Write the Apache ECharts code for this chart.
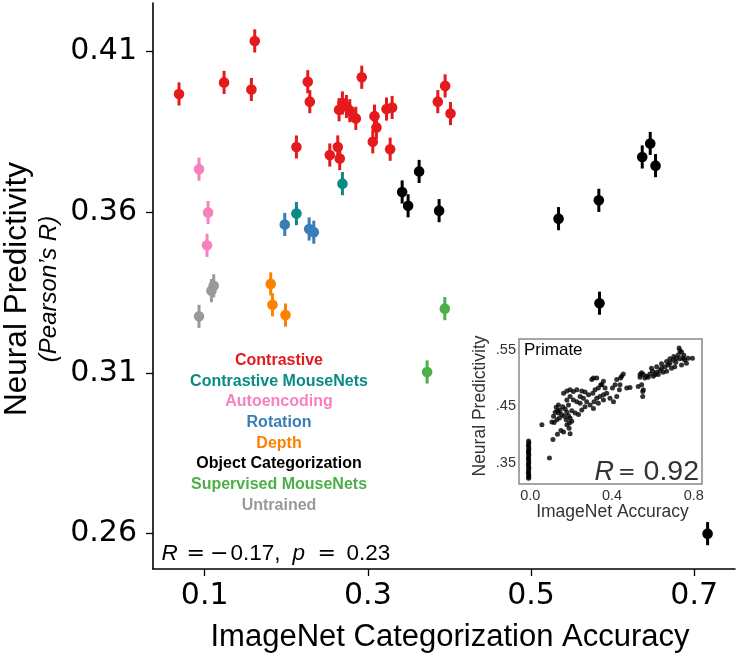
<!DOCTYPE html>
<html><head><meta charset="utf-8">
<script src="https://cdn.jsdelivr.net/npm/echarts@6/dist/echarts.min.js"></script>
<style>html,body{margin:0;padding:0;background:#fff}#c{width:738px;height:655px}</style>
</head><body><div id="c"></div>
<script>
// ---- main panel data: [ImageNet accuracy, neural predictivity] ----
const xTicks = [0.1, 0.3, 0.5, 0.7];
const yTicks = [0.26, 0.31, 0.36, 0.41];
const errHalf = 0.0036;

const contrastive = [
  [0.0685,0.3968],[0.1237,0.4004],[0.1572,0.3982],[0.1613,0.4133],[0.2124,0.3803],
  [0.2263,0.4006],[0.2288,0.3944],[0.2533,0.3778],[0.2631,0.3803],[0.2655,0.3767],
  [0.2647,0.3919],[0.2688,0.3940],[0.2737,0.3929],[0.2778,0.3916],[0.2852,0.3892],
  [0.2925,0.4020],[0.3081,0.3899],[0.3105,0.3864],[0.3060,0.3819],[0.3228,0.3921],
  [0.3297,0.3926],[0.3273,0.3796],[0.3857,0.3944],[0.3947,0.3993],[0.4013,0.3907]
];
const contrastiveMouseNets = [[0.2124,0.3596],[0.2688,0.3689]];
const autoencoding = [[0.0930,0.3734],[0.1041,0.3599],[0.1028,0.3497]];
const rotation = [[0.1981,0.3562],[0.2280,0.3548],[0.2337,0.3538]];
const depth = [[0.1809,0.3377],[0.1830,0.3312],[0.1990,0.3280]];
const objectCategorization = [
  [0.3420,0.3663],[0.3493,0.3620],[0.3628,0.3727],[0.3873,0.3605],[0.5337,0.3580],
  [0.5831,0.3637],[0.6363,0.3772],[0.6461,0.3814],[0.6526,0.3745],[0.5839,0.3317],
  [0.7164,0.2600]
];
const supervisedMouseNets = [[0.3943,0.3300],[0.3726,0.3103]];
const untrained = [[0.0930,0.3276],[0.1082,0.3356],[0.1110,0.3371]];

const groupNames = ['Contrastive','Contrastive MouseNets','Autoencoding','Rotation','Depth',
  'Object Categorization','Supervised MouseNets','Untrained'];
const groupData = [contrastive, contrastiveMouseNets, autoencoding, rotation, depth,
  objectCategorization, supervisedMouseNets, untrained];
const groupColors = ['#e41a1c','#0a8a84','#f781bf','#377eb8','#ff7f00','#000000','#4daf4a','#999999'];

// ---- inset (primate) data ----
const inTicksX = [0.0, 0.4, 0.8];
const inTicksY = [0.35, 0.45, 0.55];
const primate = [
  [-0.008,0.388],[-0.007,0.385],[-0.009,0.381],[-0.008,0.379],[-0.007,0.375],[-0.008,0.372],
  [-0.009,0.369],[-0.008,0.366],[-0.007,0.364],[-0.008,0.360],[-0.009,0.357],[-0.008,0.355],
  [-0.007,0.351],[-0.008,0.348],[-0.009,0.346],[-0.008,0.342],[-0.007,0.340],[-0.008,0.336],
  [-0.009,0.333],[-0.008,0.330],[-0.007,0.327],[-0.008,0.324],[-0.008,0.322],
  [0.057,0.417],[0.094,0.358],
  [0.111,0.391],[0.133,0.400],[0.150,0.407],[0.163,0.404],[0.195,0.401],[0.190,0.411],[0.179,0.417],
  [0.106,0.422],[0.114,0.432],[0.122,0.439],[0.133,0.442],[0.127,0.448],[0.138,0.452],[0.117,0.421],
  [0.138,0.438],[0.146,0.443],[0.159,0.449],[0.171,0.445],[0.179,0.439],[0.187,0.433],[0.195,0.429],
  [0.203,0.423],[0.192,0.420],[0.176,0.426],[0.166,0.432],[0.154,0.435],[0.143,0.429],[0.130,0.426],
  [0.163,0.473],[0.179,0.477],[0.195,0.479],[0.211,0.476],[0.228,0.479],[0.252,0.477],[0.268,0.475],
  [0.285,0.470],[0.306,0.473],[0.317,0.479],[0.333,0.482],[0.350,0.488],[0.325,0.464],[0.341,0.467],
  [0.358,0.470],[0.374,0.473],[0.390,0.464],[0.407,0.458],[0.423,0.467],[0.436,0.479],[0.439,0.488],
  [0.442,0.500],[0.447,0.503],[0.455,0.507],[0.423,0.497],[0.415,0.488],[0.402,0.482],[0.472,0.482],
  [0.488,0.483],[0.358,0.494],[0.366,0.482],[0.301,0.497],[0.309,0.500],[0.325,0.500],[0.345,0.488],
  [0.211,0.461],[0.228,0.458],[0.244,0.467],[0.260,0.464],[0.276,0.458],[0.293,0.452],[0.309,0.446],
  [0.268,0.449],[0.252,0.443],[0.236,0.435],[0.220,0.438],[0.203,0.442],[0.187,0.452],[0.179,0.461],
  [0.195,0.467],[0.312,0.458],[0.333,0.455],[0.358,0.461],[0.244,0.455],
  [0.528,0.485],[0.545,0.509],[0.550,0.476],[0.550,0.467],[0.537,0.506],[0.553,0.506],[0.569,0.503],
  [0.585,0.507],[0.598,0.512],[0.610,0.506],[0.618,0.510],[0.634,0.513],[0.642,0.517],[0.659,0.520],
  [0.675,0.523],[0.683,0.526],[0.699,0.532],[0.715,0.535],[0.724,0.541],[0.732,0.548],[0.728,0.553],
  [0.740,0.546],[0.748,0.535],[0.756,0.532],[0.772,0.535],[0.793,0.535],[0.764,0.526],[0.740,0.523],
  [0.707,0.520],[0.691,0.517],[0.667,0.512],[0.650,0.510],[0.626,0.506],[0.602,0.503],[0.577,0.501],
  [0.561,0.500],[0.593,0.517],[0.618,0.520],[0.642,0.525],[0.667,0.529],[0.683,0.534],[0.702,0.538],
  [0.712,0.528],[0.732,0.534],[0.751,0.540],[0.553,0.479],[0.545,0.488],[0.537,0.501]
];

const chart = echarts.init(document.getElementById('c'), null, {renderer: 'canvas'});

function errSeries(name, data, color) {
  return {
    type: 'custom', name: name, xAxisIndex: 0, yAxisIndex: 0, z: 3,
    data: data.map(d => [d[0], d[1], errHalf]),
    encode: {x: 0, y: 1},
    renderItem: function (params, api) {
      const x = api.value(0), y = api.value(1), e = api.value(2);
      const p0 = api.coord([x, y - e]), p1 = api.coord([x, y + e]), c = api.coord([x, y]);
      return {type: 'group', children: [
        {type: 'line', shape: {x1: p0[0], y1: p0[1], x2: p1[0], y2: p1[1]}, style: {stroke: color, lineWidth: 3}},
        {type: 'circle', shape: {cx: c[0], cy: c[1], r: 5.3}, style: {fill: color}}
      ]};
    }
  };
}

const series = groupData.map((d, i) => errSeries(groupNames[i], d, groupColors[i]));
series.push({
  type: 'scatter', name: 'Primate', xAxisIndex: 1, yAxisIndex: 1, z: 5,
  data: primate, symbolSize: 5, itemStyle: {color: '#000'}, silent: true
});

const MAIN_FONT = 'DejaVu Sans';
const SANS = 'Liberation Sans, Arial, Helvetica, sans-serif';

function txt(x, y, text, font, fill, align, extra) {
  return Object.assign({type: 'text', x: x, y: y, z: 10,
    style: {text: text, fill: fill, font: font, textAlign: align, textVerticalAlign: 'middle'}}, extra || {});
}

const graphics = [];
groupNames.forEach((n, i) => {
  graphics.push(txt(279, 360.5 + i * 20.7, n, 'bold 16px ' + SANS, groupColors[i], 'center'));
});
graphics.push(txt(450, 637.5, 'ImageNet Categorization Accuracy', '31px ' + SANS, '#000', 'center'));
graphics.push(txt(17, 289, 'Neural Predictivity', '31.5px ' + SANS, '#000', 'center', {rotation: Math.PI / 2}));
graphics.push(txt(49, 289, '(Pearson\u2019s R)', 'italic 24px ' + SANS, '#000', 'center', {rotation: Math.PI / 2}));
// correlation annotation (main panel)
const annY = 553.5, annF = '22.5px ' + SANS, annFI = 'italic 22.5px ' + SANS, annM = '22px DejaVu Sans';
graphics.push(txt(161.5, annY, 'R', annFI, '#000', 'left'));
graphics.push(txt(186.5, annY + 1, '=', annM, '#000', 'left'));
graphics.push(txt(210, annY + 1, '\u2212', annM, '#000', 'left'));
graphics.push(txt(230.5, annY, '0.17,', annF, '#000', 'left'));
graphics.push(txt(292.5, annY, 'p', annFI, '#000', 'left'));
graphics.push(txt(317.5, annY + 1, '=', annM, '#000', 'left'));
graphics.push(txt(346.5, annY, '0.23', annF, '#000', 'left'));
// inset texts
graphics.push(txt(524, 350, 'Primate', '17px ' + SANS, '#000', 'left'));
graphics.push(txt(594.5, 472.5, 'R', 'italic 27px ' + SANS, '#333', 'left'));
graphics.push(txt(618, 473.5, '=', '21px DejaVu Sans', '#333', 'left'));
graphics.push(txt(699, 472.5, '0.92', '28.5px ' + SANS, '#333', 'right'));
graphics.push(txt(612.5, 512.5, 'ImageNet Accuracy', '17.5px ' + SANS, '#333', 'center'));
graphics.push(txt(480, 406, 'Neural Predictivity', '17.5px ' + SANS, '#333', 'center', {rotation: Math.PI / 2}));

chart.setOption({
  animation: false,
  backgroundColor: '#fff',
  grid: [
    {left: 153, top: 3, width: 582, height: 566, show: false},
    {left: 519, top: 339, width: 183, height: 145, show: true, borderColor: '#888', borderWidth: 1.5, backgroundColor: '#fff', z: 4}
  ],
  xAxis: [
    {type: 'value', gridIndex: 0, min: 0.0366, max: 0.750,
      axisLine: {show: true, lineStyle: {color: '#000', width: 1.6}},
      axisTick: {show: true, length: 7, lineStyle: {color: '#000', width: 1.3}, customValues: xTicks},
      axisLabel: {customValues: xTicks, formatter: v => v.toFixed(1), fontFamily: MAIN_FONT, fontSize: 30, color: '#000', margin: 12},
      splitLine: {show: false}},
    {type: 'value', gridIndex: 1, min: -0.055, max: 0.84, z: 6,
      axisLine: {show: false}, axisTick: {show: false},
      axisLabel: {customValues: inTicksX, formatter: v => v.toFixed(1), fontFamily: SANS, fontSize: 14.5, color: '#333', margin: 4},
      splitLine: {show: false}}
  ],
  yAxis: [
    {type: 'value', gridIndex: 0, min: 0.249, max: 0.4251,
      axisLine: {show: true, lineStyle: {color: '#000', width: 1.6}},
      axisTick: {show: true, length: 7, lineStyle: {color: '#000', width: 1.3}, customValues: yTicks},
      axisLabel: {customValues: yTicks, formatter: v => v.toFixed(2), fontFamily: MAIN_FONT, fontSize: 30, color: '#000', margin: 16},
      splitLine: {show: false}},
    {type: 'value', gridIndex: 1, min: 0.312, max: 0.569, z: 6,
      axisLine: {show: false}, axisTick: {show: false},
      axisLabel: {customValues: inTicksY, formatter: v => v.toFixed(2).replace(/^0/, ''), fontFamily: SANS, fontSize: 14.5, color: '#333', margin: 3},
      splitLine: {show: false}}
  ],
  graphic: graphics,
  series: series
});
</script>
</body></html>
